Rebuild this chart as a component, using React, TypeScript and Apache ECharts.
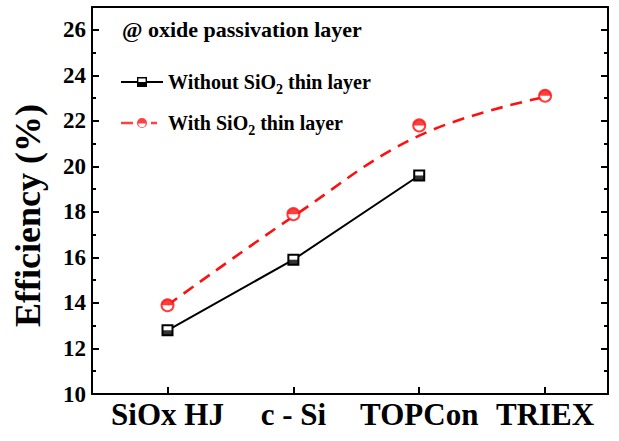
import React, { useEffect, useRef } from "react";
import * as echarts from "echarts";

// Device types along the x axis
const categories = ["SiOx HJ", "c - Si", "TOPCon", "TRIEX"];
// Measured cell efficiencies (%)
const withoutSiO2 = [12.8, 15.9, 19.6];
const withSiO2 = [13.9, 17.9, 21.8, 23.1];
// Trend curve through the SiO2 cells
const withSiO2Trend = [13.9, 17.8, 21.35, 23.05];
// Efficiency axis
const yMin = 10;
const yMax = 27;
const yStep = 2;
// Category positions on the numeric x axis
const categoryPositions = categories.map((_, i) => i + 1);

const FONT = "'Liberation Serif', 'Times New Roman', serif";
const RED = "#ff1010";

const NAME_WITHOUT = "Without SiO2 thin layer";
const NAME_WITH = "With SiO2 thin layer";

// Legend icons: line + half-filled marker
const ICON_WITHOUT =
  "path://M0,4H16V6H0Z M26,4H42V6H26Z M16,0H26V10H16Z M17.4,1.4V5H24.6V1.4Z";
const ICON_WITH =
  "path://M0,3.8H12V6.2H0Z M30,3.8H36V6.2H30Z M16,5A5,5 0 1 1 26,5A5,5 0 1 1 16,5Z M17.3,5.6A3.7,3.7 0 0 0 24.7,5.6Z";

const toPairs = (values: number[]) => values.map((v, i) => [categoryPositions[i], v]);

const legendText = (name: string) =>
  name === NAME_WITHOUT
    ? "{a|Without SiO}{sub|2}{a| thin layer}"
    : "{a|With SiO}{sub|2}{a| thin layer}";

const legendTextStyle = (padLeft: number) => ({
  color: "#000",
  fontFamily: FONT,
  fontWeight: "bold" as const,
  fontSize: 20,
  padding: [0, 0, 0, padLeft],
  rich: {
    a: {
      fontFamily: FONT,
      fontWeight: "bold" as const,
      fontSize: 20,
      color: "#000",
      lineHeight: 28,
      verticalAlign: "middle" as const,
    },
    sub: {
      fontFamily: FONT,
      fontWeight: "bold" as const,
      fontSize: 14,
      color: "#000",
      lineHeight: 13,
      verticalAlign: "bottom" as const,
    },
  },
});

export default function App() {
  const ref = useRef<HTMLDivElement>(null);

  useEffect(() => {
    if (!ref.current) return;
    const chart = echarts.init(ref.current, undefined, { renderer: "svg" });

    const axisLineStyle = { color: "#000", width: 2 };

    chart.setOption({
      animation: false,
      backgroundColor: "#fff",
      grid: { left: 92, right: 11, top: 7, bottom: 47, containLabel: false },
      graphic: [
        {
          type: "text",
          left: 122,
          top: 18,
          style: {
            text: "@ oxide passivation layer",
            font: `bold 22px ${FONT}`,
            fill: "#000",
          },
        },
      ],
      legend: [
        {
          data: [{ name: NAME_WITHOUT, icon: ICON_WITHOUT }],
          left: 121,
          top: 72,
          itemWidth: 42,
          itemHeight: 10,
          selectedMode: false,
          padding: 0,
          itemStyle: { borderWidth: 0 },
          formatter: legendText,
          textStyle: legendTextStyle(0),
        },
        {
          data: [{ name: NAME_WITH, icon: ICON_WITH }],
          left: 121,
          top: 113,
          itemWidth: 36,
          itemHeight: 10,
          selectedMode: false,
          padding: 0,
          itemStyle: { borderWidth: 0 },
          formatter: legendText,
          textStyle: legendTextStyle(6),
        },
      ],
      xAxis: [
        {
          type: "value",
          position: "bottom",
          min: 0.4,
          max: 4.5,
          axisLine: { show: true, lineStyle: axisLineStyle },
          axisTick: {
            show: true,
            inside: true,
            length: 7,
            customValues: categoryPositions,
            lineStyle: { color: "#000", width: 2 },
          },
          axisLabel: {
            customValues: categoryPositions,
            formatter: (v: number) => categories[Math.round(v) - 1] ?? "",
            color: "#000",
            fontFamily: FONT,
            fontWeight: "bold",
            fontSize: 31,
            margin: 5,
          },
          splitLine: { show: false },
        },
        {
          type: "value",
          position: "top",
          min: 0.4,
          max: 4.5,
          axisLine: { show: true, lineStyle: axisLineStyle },
          axisTick: { show: false },
          axisLabel: { show: false },
          splitLine: { show: false },
        },
      ],
      yAxis: [
        {
          type: "value",
          position: "left",
          min: yMin,
          max: yMax,
          interval: yStep,
          name: "Efficiency (%)",
          nameLocation: "middle",
          nameGap: 46,
          nameTextStyle: {
            color: "#000",
            fontFamily: FONT,
            fontWeight: "bold",
            fontSize: 36,
            padding: [0, 30, 0, 0],
          },
          axisLine: { show: true, lineStyle: axisLineStyle },
          axisTick: { show: true, inside: true, length: 7, lineStyle: { color: "#000", width: 2 } },
          minorTick: { show: true, splitNumber: 2, length: 4, lineStyle: { color: "#000", width: 2 } },
          axisLabel: {
            color: "#000",
            fontFamily: FONT,
            fontWeight: "bold",
            fontSize: 23,
            margin: 6,
          },
          splitLine: { show: false },
        },
        {
          type: "value",
          position: "right",
          min: yMin,
          max: yMax,
          interval: yStep,
          axisLine: { show: true, lineStyle: axisLineStyle },
          axisTick: { show: true, inside: true, length: 7, lineStyle: { color: "#000", width: 2 } },
          minorTick: { show: true, splitNumber: 2, length: 4, lineStyle: { color: "#000", width: 2 } },
          axisLabel: { show: false },
          splitLine: { show: false },
        },
      ],
      series: [
        {
          name: NAME_WITHOUT,
          type: "line",
          data: toPairs(withoutSiO2),
          symbol: "emptyRect",
          symbolSize: 10,
          color: "#000",
          lineStyle: { color: "#000", width: 2 },
          itemStyle: { color: "#000", borderWidth: 1.5 },
          z: 3,
        },
        {
          name: "without-fill",
          type: "scatter",
          data: toPairs(withoutSiO2),
          symbol: "path://M0,0H10V5H0Z",
          symbolSize: [10, 5],
          symbolOffset: [0, 2.5],
          itemStyle: { color: "#000" },
          silent: true,
          z: 4,
        },
        {
          name: "with-trend",
          type: "line",
          data: toPairs(withSiO2Trend),
          smooth: 0.4,
          symbol: "none",
          showSymbol: false,
          lineStyle: { color: RED, width: 2.6, type: [12, 8] },
          silent: true,
          z: 2,
        },
        {
          name: NAME_WITH,
          type: "scatter",
          data: toPairs(withSiO2),
          symbol: "emptyCircle",
          symbolSize: 12,
          color: RED,
          itemStyle: { color: RED, borderWidth: 1.6 },
          z: 5,
        },
        {
          name: "with-fill",
          type: "scatter",
          data: toPairs(withSiO2),
          symbol: "path://M0,5A5,5 0 0 1 10,5Z",
          symbolSize: [12, 6],
          symbolOffset: [0, -3],
          itemStyle: { color: RED },
          silent: true,
          z: 6,
        },
      ],
    });

    return () => chart.dispose();
  }, []);

  return (
    <div
      ref={ref}
      style={{ position: "fixed", left: 0, top: 0, width: 619, height: 441, background: "#fff" }}
    />
  );
}
